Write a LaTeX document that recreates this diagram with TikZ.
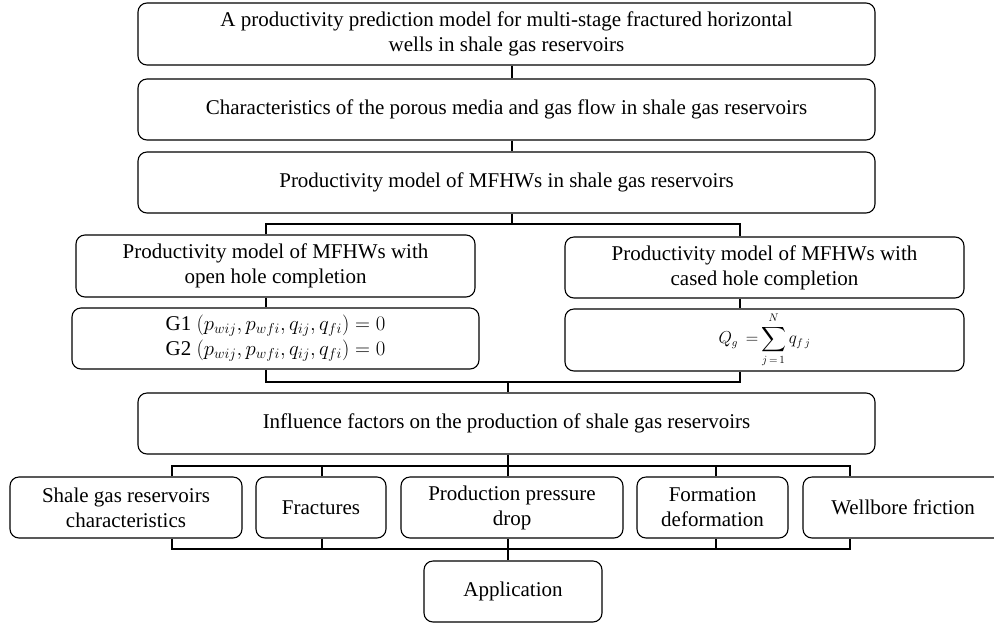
\documentclass[tikz,border=0pt]{standalone}
\usepackage{exscale}
\usepackage{fontspec}
\setmainfont{Liberation Serif}
\begin{document}
\begin{tikzpicture}[x=1pt,y=-1pt,
  box/.style={draw=black, line width=1.1pt, rounded corners=9pt, align=center, inner sep=0pt,
    font=\fontsize{21}{25}\selectfont},
  conn/.style={draw=black, line width=1.1pt}]
\useasboundingbox (0,0) rectangle (994,625);
% main chain
\node[box, minimum width=737pt, minimum height=62pt] (b1) at (506.5,34)
  {A productivity prediction model for multi-stage fractured horizontal\\wells in shale gas reservoirs};
\node[box, minimum width=737pt, minimum height=61pt] (b2) at (506.5,109.5)
  {Characteristics of the porous media and gas flow in shale gas reservoirs};
\node[box, minimum width=737pt, minimum height=61pt] (b3) at (506.5,182.5)
  {Productivity model of MFHWs in shale gas reservoirs};
% two branches
\node[box, minimum width=399pt, minimum height=62pt] (b4) at (275.5,266)
  {Productivity model of MFHWs with\\open hole completion};
\node[box, minimum width=407pt, minimum height=61pt] (b4e) at (275.5,338.5)
  {G1 $(p_{wij}, p_{wfi}, q_{ij}, q_{fi}) = 0$\\G2 $(p_{wij}, p_{wfi}, q_{ij}, q_{fi}) = 0$};
\node[box, minimum width=399pt, minimum height=61pt] (b5) at (764.5,267.5)
  {Productivity model of MFHWs with\\cased hole completion};
\node[box, minimum width=399pt, minimum height=62pt] (b5e) at (764.5,340)
  {\fontsize{16}{19}\selectfont$\displaystyle {\textstyle Q_g\,=} \sum_{j\,=\,1}^{N} q_{f\,j}$};
% influence
\node[box, minimum width=737pt, minimum height=61pt] (b6) at (506.5,423.5)
  {Influence factors on the production of shale gas reservoirs};
\node[box, minimum width=232pt, minimum height=61pt] (fa) at (126,507.5)
  {Shale gas reservoirs\\characteristics};
\node[box, minimum width=130pt, minimum height=61pt] (fb) at (321,507.5) {Fractures};
\node[box, minimum width=222pt, minimum height=61pt] (fc) at (512,507.5)
  {Production pressure\\drop};
\node[box, minimum width=151pt, minimum height=61pt] (fd) at (712.5,507.5)
  {Formation\\deformation};
\node[box, minimum width=200pt, minimum height=61pt] (fe) at (903,507.5) {Wellbore friction};
\node[box, minimum width=178pt, minimum height=61pt] (app) at (513,591.5) {Application};
% guide coordinates
\coordinate (g512) at (512,0);
\coordinate (g266) at (266,0);
\coordinate (g740) at (740,0);
\coordinate (g172) at (172,0);
\coordinate (g322) at (322,0);
\coordinate (g716) at (716,0);
\coordinate (g850) at (850,0);
\coordinate (j1) at (512,224);
\coordinate (j2) at (508,382);
\coordinate (j3) at (508,466);
\coordinate (j4) at (508,549);
% connectors
\draw[conn] (b1.south -| g512) -- (b2.north -| g512);
\draw[conn] (b2.south -| g512) -- (b3.north -| g512);
\draw[conn] (b3.south -| g512) -- (j1);
\draw[conn] (b4.north -| g266) |- (j1) -| (b5.north -| g740);
\draw[conn] (b4.south -| g266) -- (b4e.north -| g266);
\draw[conn] (b5.south -| g740) -- (b5e.north -| g740);
\draw[conn] (b4e.south -| g266) |- (j2) -| (b5e.south -| g740);
\draw[conn] (j2) -- (b6.north -| j2);
\draw[conn] (b6.south -| j3) -- (j3);
\draw[conn] (fa.north -| g172) |- (j3) -| (fe.north -| g850);
\draw[conn] (fb.north -| g322) -- ++(0,-11);
\draw[conn] (fc.north -| j3) -- (j3);
\draw[conn] (fd.north -| g716) -- ++(0,-11);
\draw[conn] (fa.south -| g172) |- (j4) -| (fe.south -| g850);
\draw[conn] (fb.south -| g322) -- ++(0,11);
\draw[conn] (fc.south -| j4) -- (j4);
\draw[conn] (fd.south -| g716) -- ++(0,11);
\draw[conn] (j4) -- (app.north -| j4);
\end{tikzpicture}
\end{document}
